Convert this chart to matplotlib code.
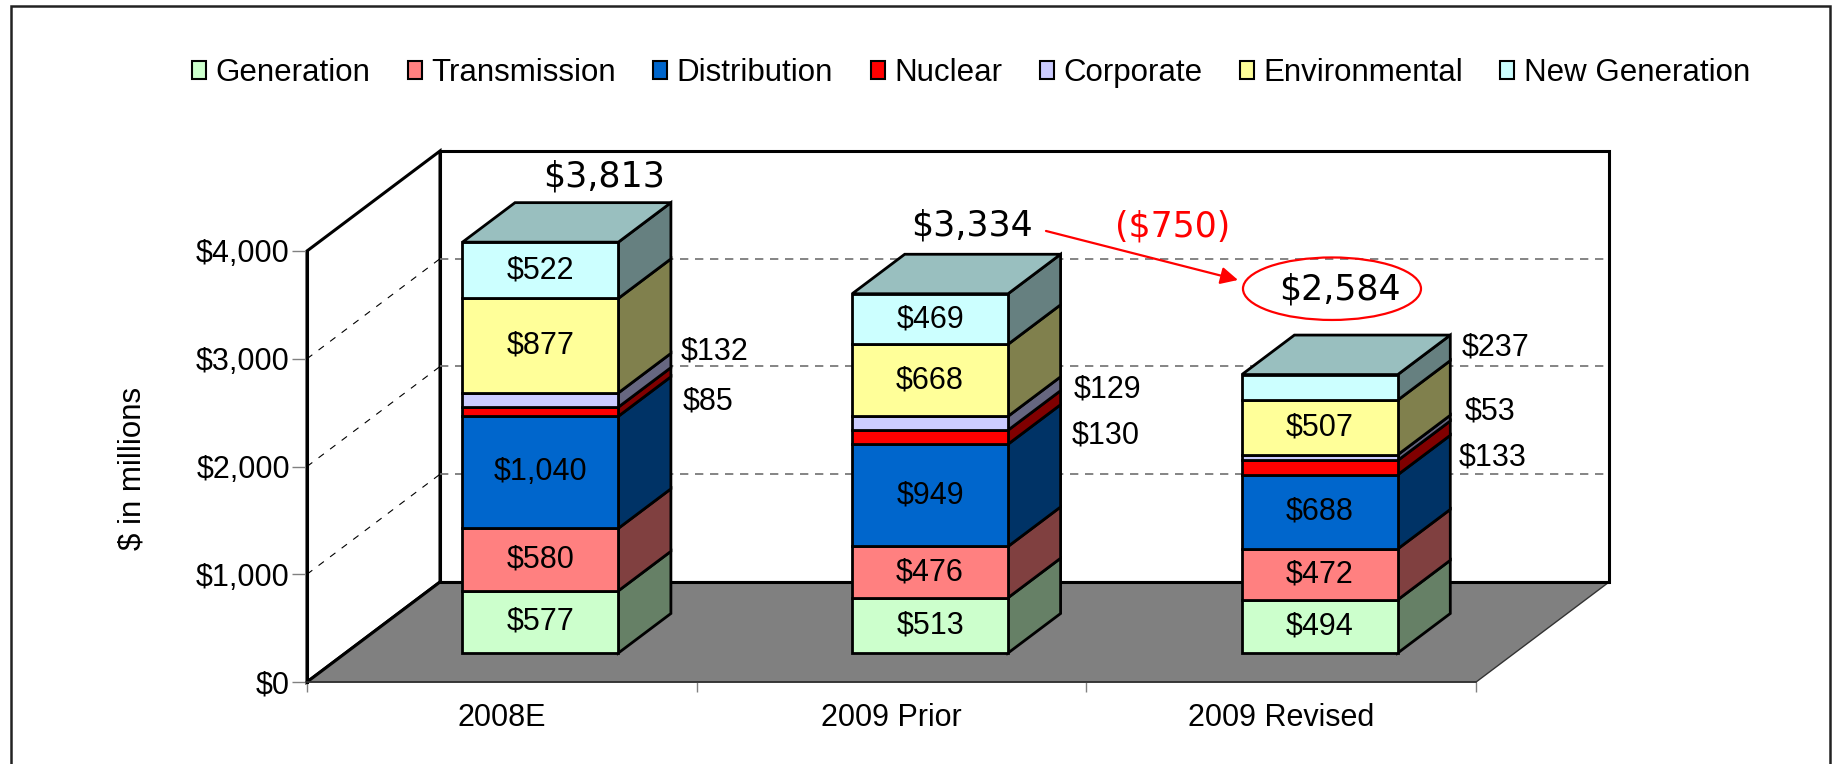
import matplotlib
matplotlib.use('Agg')
import matplotlib.pyplot as plt
from matplotlib.patches import Polygon, Rectangle, Patch, Ellipse
from matplotlib.ticker import FixedLocator
import matplotlib.colors as mcolors

# ---------------- data ----------------
categories = ['2008E', '2009 Prior', '2009 Revised']
series_names = ['Generation', 'Transmission', 'Distribution', 'Nuclear',
                'Corporate', 'Environmental', 'New Generation']
generation = [577, 513, 494]
transmission = [580, 476, 472]
distribution = [1040, 949, 688]
nuclear = [85, 130, 133]
corporate = [132, 129, 53]
environmental = [877, 668, 507]
new_generation = [522, 469, 237]
totals = [3813, 3334, 2584]
change_label = '($750)'
y_ticks = [0, 1000, 2000, 3000, 4000]
y_tick_labels = ['$0', '$1,000', '$2,000', '$3,000', '$4,000']
y_label = '$ in millions'
colors = ['#CCFFCC', '#FF8080', '#0066CC', '#FF0000', '#CCCCFF', '#FFFF99', '#CCFFFF']

series = [generation, transmission, distribution, nuclear, corporate,
          environmental, new_generation]

# ---------------- styling / layout ----------------
plt.rcParams['font.family'] = ['Liberation Sans', 'DejaVu Sans']
W, H = 1833, 764
fig = plt.figure(figsize=(W / 100, H / 100), dpi=100)
ax = fig.add_axes([0, 0, 1, 1])
ax.set_facecolor('none')

# pixel mapping of the chart (front-left origin at px (307,682))
X0, Y0 = 307.0, 682.0
CATW = 389.7      # px per category
VPX = 0.10775     # px per $1
ax.set_xlim(-X0 / CATW, (W - X0) / CATW)
ax.set_ylim((Y0 - H) / VPX, Y0 / VPX)

# oblique depth vector (in data units per unit depth)
DX = 133.0 / CATW
DY = 100.0 / VPX
D0, D1 = 0.29, 0.685   # bar depth span
BW0, BW1 = 0.3, 0.7    # bar span within a category
YMAX = 4000
NCAT = len(categories)


def P(x, y, d):
    return (x + d * DX, y + d * DY)


def shade(c, f):
    r, g, b = mcolors.to_rgb(c)
    return (r * f, g * f, b * f)


# walls and floor
back = Polygon([P(0, 0, 1), P(NCAT, 0, 1), P(NCAT, YMAX, 1), P(0, YMAX, 1)],
               closed=True, facecolor='white', edgecolor='black', lw=2.2, zorder=1)
left = Polygon([P(0, 0, 0), P(0, YMAX, 0), P(0, YMAX, 1), P(0, 0, 1)],
               closed=True, facecolor='white', edgecolor='black', lw=2.2, zorder=1)
floor = Polygon([P(0, 0, 0), P(NCAT, 0, 0), P(NCAT, 0, 1), P(0, 0, 1)],
                closed=True, facecolor='#808080', edgecolor='#333333', lw=1.0, zorder=1.5)
for p in (back, left, floor):
    ax.add_patch(p)
for a, b in [((0, 0, 0), (0, 0, 1)), ((0, 0, 1), (NCAT, 0, 1))]:
    pa, pb = P(*a), P(*b)
    ax.plot([pa[0], pb[0]], [pa[1], pb[1]], color='black', lw=2.2, zorder=1.6,
            solid_capstyle='round')

# gridlines
for v in y_ticks[1:-1]:
    a, b = P(0, v, 1), P(NCAT, v, 1)
    ax.plot([a[0], b[0]], [a[1], b[1]], color='#707070', lw=1.2,
            linestyle=(0, (5, 4)), zorder=2)
    a, b = P(0, v, 0), P(0, v, 1)
    ax.plot([a[0], b[0]], [a[1], b[1]], color='black', lw=0.8,
            linestyle=(0, (6, 7)), zorder=2)

# bars
label_font = 22
outside_labels = {(0, 4): (0.960, 3063), (0, 3): (0.965, 2599),
                  (1, 4): (1.968, 2710), (1, 3): (1.963, 2292),
                  (2, 6): (2.963, 3100), (2, 4): (2.972, 2506), (2, 3): (2.956, 2079)}
for i in range(NCAT):
    b = 0
    xl, xr = i + BW0, i + BW1
    for s, vals in enumerate(series):
        h = vals[i]
        c = colors[s]
        side = Polygon([P(xr, b, D0), P(xr, b, D1), P(xr, b + h, D1), P(xr, b + h, D0)],
                       closed=True, facecolor=shade(c, 0.5), edgecolor='black',
                       lw=2.0, joinstyle='miter', zorder=3)
        front = Polygon([P(xl, b, D0), P(xr, b, D0), P(xr, b + h, D0), P(xl, b + h, D0)],
                        closed=True, facecolor=c, edgecolor='black', lw=2.0,
                        joinstyle='miter', zorder=3.1)
        ax.add_patch(side)
        ax.add_patch(front)
        txt = f'${h:,}'
        if (i, s) in outside_labels:
            tx, ty = outside_labels[(i, s)]
            ax.text(tx, ty, txt, ha='left', va='center', fontsize=label_font,
                    color='black', zorder=10)
        else:
            cx, cy = P((xl + xr) / 2, b + h / 2, D0)
            ax.text(cx, cy, txt, ha='center', va='center', fontsize=label_font,
                    color='black', zorder=10)
        b += h
    top = Polygon([P(xl, b, D0), P(xr, b, D0), P(xr, b, D1), P(xl, b, D1)],
                  closed=True, facecolor=shade(colors[-1], 0.75), edgecolor='black',
                  lw=2.0, joinstyle='miter', zorder=3.2)
    ax.add_patch(top)

# totals and annotation
tot_font = dict(family='DejaVu Sans', fontsize=25)
total_pos = [(0.7634, 4690), (1.7077, 4241)]
for i, (tx, ty) in enumerate(total_pos):
    ax.text(tx, ty, f'${totals[i]:,}', ha='center', va='center', color='black',
            zorder=10, **tot_font)
ax.text(2.6507, 3640, f'${totals[2]:,}', ha='center', va='center', color='black',
        zorder=10, **tot_font)
ax.text(2.2212, 4226, change_label, ha='center', va='center', color='#FF0000',
        zorder=10, **tot_font)
ax.add_patch(Ellipse((2.6302, 3650), width=0.4568, height=580, fill=False,
                     edgecolor='#FF0000', lw=1.6, zorder=10))
ax.annotate('', xy=(2.389, 3731), xytext=(1.8963, 4186),
            arrowprops=dict(arrowstyle='-|>', color='#FF0000', lw=1.6,
                            mutation_scale=26, shrinkA=0, shrinkB=0), zorder=10)

# axes
for sp in ('top', 'right'):
    ax.spines[sp].set_visible(False)
ax.spines['left'].set_position(('data', 0))
ax.spines['left'].set_bounds(0, YMAX)
ax.spines['left'].set_linewidth(2.2)
ax.spines['left'].set_zorder(2.5)
ax.spines['bottom'].set_position(('data', 0))
ax.spines['bottom'].set_bounds(0, NCAT)
ax.spines['bottom'].set_linewidth(1.2)
ax.spines['bottom'].set_color('#333333')

ax.yaxis.set_major_locator(FixedLocator(y_ticks))
ax.set_yticklabels(y_tick_labels)
ax.tick_params(axis='y', direction='out', length=10.8, width=1.0, color='#808080',
               pad=1.5, labelsize=label_font)
ax.set_xticks(range(NCAT + 1))
ax.set_xticklabels([])
ax.set_xticks([k + 0.5 for k in range(NCAT)], minor=True)
ax.set_xticklabels(categories, minor=True)
ax.tick_params(axis='x', which='major', direction='out', length=7, width=1.0,
               color='#808080')
ax.tick_params(axis='x', which='minor', length=0, pad=15, labelsize=label_font)
ax.set_ylabel(y_label, fontsize=22.5)
ax.yaxis.set_label_coords(148 / W, 1 - 468 / H)

# legend
handles = [Patch(facecolor=c, edgecolor='black', linewidth=1.5) for c in colors]
fig.legend(handles, series_names, loc='center', bbox_to_anchor=(0.5297, 0.904),
           ncol=7, frameon=False, fontsize=22.5, handlelength=0.45,
           handleheight=0.5, handletextpad=0.3, columnspacing=1.2)

# outer frame
fig.add_artist(Rectangle((11 / W, -0.05), (1830 - 11) / W, (1 - 6 / H) + 0.05,
                         transform=fig.transFigure, fill=False,
                         edgecolor='#222222', lw=1.8))

fig.savefig('out.png', dpi=100)
